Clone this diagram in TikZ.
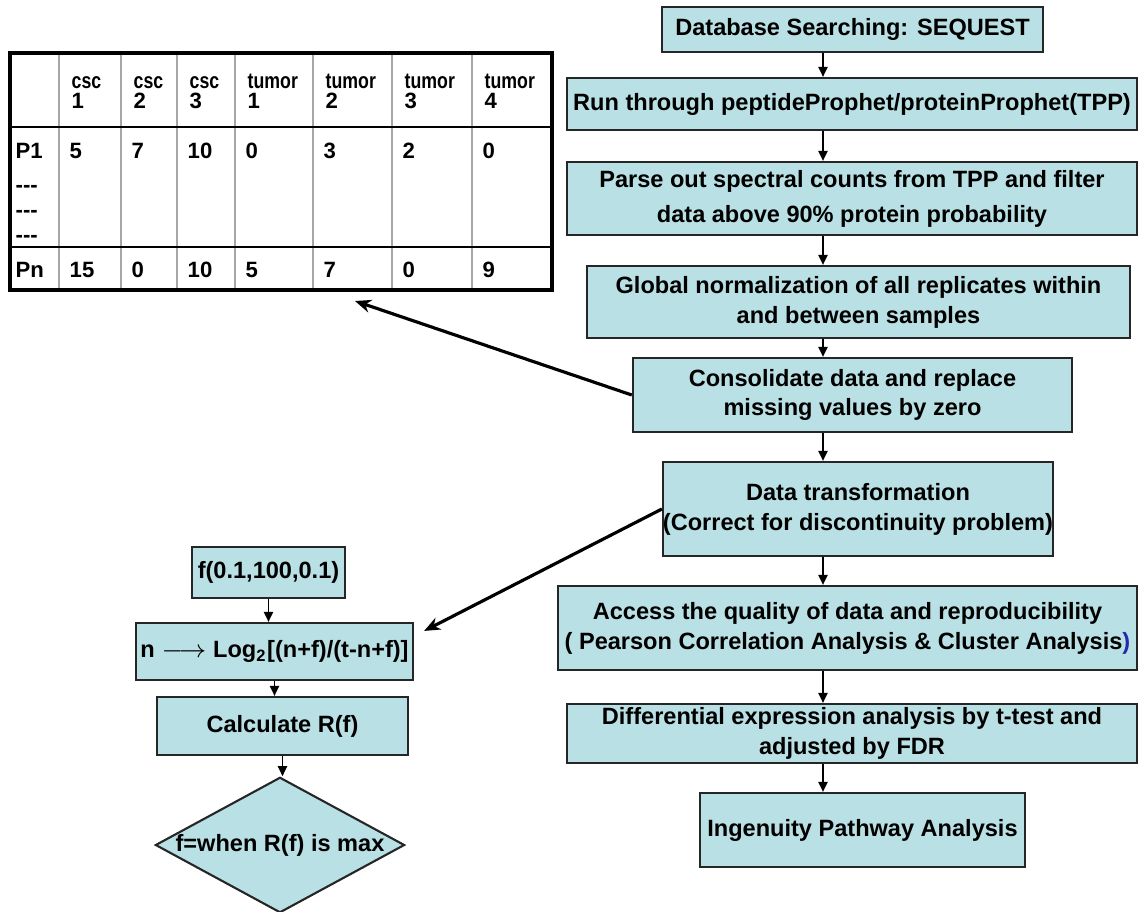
\documentclass[tikz,border=0pt]{standalone}
\usepackage{fontspec}
\setmainfont{Liberation Sans}
\usetikzlibrary{arrows.meta, positioning, calc, shapes.geometric}

\definecolor{boxfill}{RGB}{185,224,228}
\definecolor{parenblue}{RGB}{40,40,170}

\begin{document}
\begin{tikzpicture}[
  x=0.01cm, y=-0.01cm,
  pbox/.style={draw=black!85, fill=boxfill, line width=0.6pt, inner sep=0pt, align=center,
    font=\fontsize{6.7}{8.5}\selectfont\bfseries},
  dbox/.style={pbox, diamond, aspect=1.84},
  cell/.style={anchor=base west, inner sep=0pt, font=\fontsize{6.3}{7.5}\selectfont\bfseries},
  hword/.style={cell, font=\fontsize{6.3}{7}\selectfont\bfseries},
  arr/.style={-{Triangle[length=1mm, width=0.9mm]}, line width=0.55pt},
  farr/.style={-{Stealth[length=1.6mm, width=1.3mm]}, line width=0.9pt}
]
  \useasboundingbox (0,0) rectangle (1138,911);

  % main pipeline
  \node[pbox, minimum width=3.81cm, minimum height=0.45cm] (db) at (852.5,29.5) {Database Searching: SEQUEST};
  \node[pbox, minimum width=5.70cm, minimum height=0.52cm] (tpp) at (852,104) {Run through peptideProphet/proteinProphet(TPP)};
  \node[pbox, minimum width=5.70cm, minimum height=0.73cm, font=\fontsize{6.7}{10}\selectfont\bfseries] (parse) at (852,198.5) {Parse out spectral counts from TPP and filter\\data above 90\% protein probability};
  \node[pbox, minimum width=5.43cm, minimum height=0.72cm] (norm) at (858.5,302) {Global normalization of all replicates within\\and between samples};
  \node[pbox, minimum width=4.39cm, minimum height=0.74cm] (cons) at (852.5,395) {Consolidate data and replace\\missing values by zero};
  \node[pbox, minimum width=3.70cm, minimum height=0.94cm] (trans) at (858,509) {Data transformation\\(Correct for discontinuity problem)};
  \node[pbox, minimum width=5.79cm, minimum height=0.84cm] (qual) at (847.5,628) {Access the quality of data and reproducibility\\( Pearson Correlation Analysis \& Cluster Analysis\textcolor{parenblue}{)}};
  \node[pbox, minimum width=5.70cm, minimum height=0.59cm] (diff) at (852,733.5) {Differential expression analysis by t-test and\\adjusted by FDR};
  \node[pbox, minimum width=3.25cm, minimum height=0.74cm] (ipa) at (862.5,830) {Ingenuity Pathway Analysis};

  \coordinate (ax) at (823,0);
  \foreach \a/\b in {db/tpp, tpp/parse, parse/norm, norm/cons, cons/trans, trans/qual, qual/diff, diff/ipa}
    \draw[arr] (\a.south -| ax) -- (\b.north -| ax);

  % transformation search
  \node[pbox, minimum width=1.53cm, minimum height=0.51cm] (frange) at (268.5,572.5) {f(0.1,100,0.1)};
  \node[pbox, minimum width=2.77cm, minimum height=0.57cm] (logt) at (274.5,651.5) {n $\longrightarrow$ Log\textsubscript{2}[(n+f)/(t-n+f)]};
  \node[pbox, minimum width=2.51cm, minimum height=0.58cm] (calcr) at (282.5,726) {Calculate R(f)};
  \node[dbox, minimum width=2.46cm, minimum height=1.34cm] (fmax) at (280,845) {f=when R(f) is max};

  \foreach \a/\b in {frange/logt, logt/calcr, calcr/fmax}
    \draw[arr] (\a.south) -- (\a.south |- \b.north);

  % count table
  \draw[gray!70, line width=0.6pt] foreach \x in {59,121,177,235,313,392,472} {(\x,53) -- (\x,290)};
  \draw[line width=0.8pt] (10,127) -- (552,127) (10,247) -- (552,247);
  \draw[line width=1.3pt] (10,53) rectangle (552,290);

  \foreach \x/\w/\n [count=\i] in {71/csc/1, 133/csc/2, 189/csc/3, 247/tumor/1, 325/tumor/2, 404/tumor/3, 484/tumor/4} {
    \node[hword] (hw\i) at (\x,88) {\scalebox{0.8}[1]{\w}};
    \node[cell] (hn\i) at (\x,108) {\n};
  }
  \node[cell] (p1) at (15,158) {P1};
  \foreach \y [count=\j] in {192,217,242}
    \node[cell] (dash\j) at (15,\y) {-{}-{}-};
  \node[cell] (pn) at (15,277) {Pn};
  \foreach \x/\a/\b [count=\i] in {69/5/15, 131/7/0, 187/10/10, 245/0/5, 323/3/7, 402/2/0, 482/0/9} {
    \node[cell] (va\i) at (\x,158) {\a};
    \node[cell] (vb\i) at (\x,277) {\b};
  }

  % links to the side panels
  \coordinate (tabtip) at (355,301);
  \coordinate (logtip) at ($(logt.north east)+(10,9)$);
  \draw[farr] (cons.west) -- (tabtip);
  \draw[farr] (trans.west) -- (logtip);
\end{tikzpicture}
\end{document}
